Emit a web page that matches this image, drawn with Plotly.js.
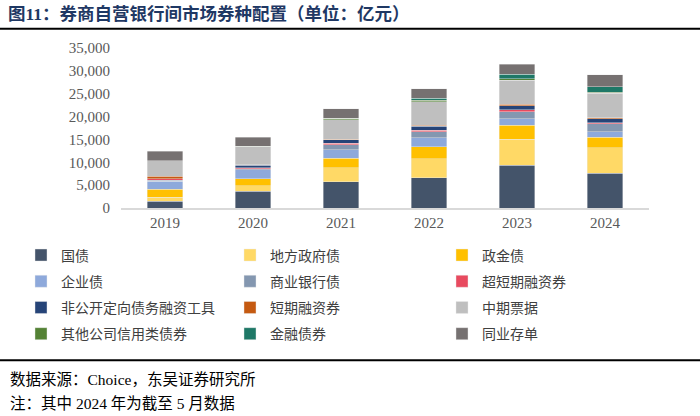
<!DOCTYPE html>
<html>
<head>
<meta charset="utf-8">
<script src="https://cdn.plot.ly/plotly-3.0.1.min.js"></script>
<style>html,body{margin:0;padding:0;background:#fff;}#chart{width:700px;height:416px;}</style>
</head>
<body>
<div id="chart"></div>
<script>
// ---- data (亿元) ----
var years = ['2019', '2020', '2021', '2022', '2023', '2024'];
var seriesNames = ['国债', '地方政府债', '政金债', '企业债', '商业银行债', '超短期融资券',
  '非公开定向债务融资工具', '短期融资券', '中期票据', '其他公司信用类债券', '金融债券', '同业存单'];
var guozhai      = [1500, 3650, 5700, 6650, 9300, 7600];
var difang       = [900, 1230, 3100, 4100, 5750, 5550];
var zhengjin     = [1650, 1520, 2030, 2600, 3000, 2300];
var qiye         = [1800, 1960, 1900, 2000, 1500, 1200];
var shangyin     = [200, 200, 1100, 1300, 1550, 1800];
var chaoduanrong = [300, 200, 360, 360, 360, 150];
var feigongkai   = [100, 600, 700, 870, 940, 900];
var duanrong     = [450, 100, 150, 250, 280, 200];
var zhongpiao    = [3450, 3950, 4300, 5100, 5250, 5350];
var qita         = [0, 150, 280, 300, 300, 300];
var jinrong      = [0, 0, 0, 500, 1000, 1150];
var tongcun      = [2050, 1960, 2100, 2030, 2170, 2680];
var yTickVals = [0, 5000, 10000, 15000, 20000, 25000, 30000, 35000];

var seriesValues = [guozhai, difang, zhengjin, qiye, shangyin, chaoduanrong,
  feigongkai, duanrong, zhongpiao, qita, jinrong, tongcun];
var colors = ['#44546A', '#FFD966', '#FFC000', '#8EA9DB', '#8497B0', '#E84A5F',
  '#264478', '#C55A11', '#BFBFBF', '#548235', '#1E7867', '#767171'];

var serif = '"Liberation Serif", "Times New Roman", "Noto Sans CJK SC", serif';
var legendNames = ['legend', 'legend2', 'legend3'];

var traces = seriesNames.map(function (name, i) {
  return {
    type: 'bar',
    name: name,
    x: years,
    y: seriesValues[i],
    marker: {color: colors[i], line: {color: 'rgba(235,235,235,0.7)', width: 0.6}},
    legend: legendNames[i % 3],
    legendgroup: 'g' + i,
    hoverinfo: 'name+y'
  };
});

// plot area: x 121..649, y 48.3..208.5
var L = 121, R = 649, T = 48.3, B = 208.5;
var W = R - L, H = B - T;
function px(x) { return (x - L) / W; }
function py(y) { return 1 - (y - T) / H; }

function legendCfg(xpix) {
  return {
    x: px(xpix), xanchor: 'left', y: py(240), yanchor: 'top',
    orientation: 'v', traceorder: 'grouped', tracegroupgap: 5,
    font: {family: serif, size: 14, color: '#404040'},
    bgcolor: 'rgba(0,0,0,0)', itemwidth: 30
  };
}

var layout = {
  width: 700, height: 416,
  margin: {l: L, r: 700 - R, t: T, b: 416 - B, pad: 0},
  paper_bgcolor: '#fff', plot_bgcolor: '#fff',
  barmode: 'stack', bargap: 0.6,
  showlegend: true,
  title: {
    text: '<b>图11：券商自营银行间市场券种配置（单位：亿元）</b>',
    xref: 'container', yref: 'container', x: 8 / 700, xanchor: 'left',
    y: 1 - 14 / 416, yanchor: 'middle',
    font: {family: serif, size: 17.5, color: '#1F3864'}
  },
  xaxis: {
    type: 'category', showline: true, linecolor: '#D9D9D9', linewidth: 1.5,
    ticks: '', showgrid: false, zeroline: false,
    tickfont: {family: serif, size: 15, color: '#595959'}
  },
  yaxis: {
    range: [0, 35000], tickvals: yTickVals, tickformat: ',d',
    showgrid: false, zeroline: false, showline: false, ticks: '',
    ticklabelstandoff: 10,
    tickfont: {family: serif, size: 15, color: '#595959'}
  },
  legend: legendCfg(21),
  legend2: legendCfg(230),
  legend3: legendCfg(442),
  shapes: [
    {type: 'line', xref: 'paper', yref: 'paper', x0: px(0), x1: px(700), y0: py(29), y1: py(29),
      line: {color: '#000', width: 2}},
    {type: 'line', xref: 'paper', yref: 'paper', x0: px(0), x1: px(700), y0: py(361), y1: py(361),
      line: {color: '#000', width: 2}}
  ],
  annotations: [
    {xref: 'paper', yref: 'paper', x: px(8), y: py(380), xanchor: 'left', yanchor: 'middle',
      showarrow: false, text: '数据来源：Choice，东吴证券研究所',
      font: {family: serif, size: 15.5, color: '#000'}},
    {xref: 'paper', yref: 'paper', x: px(8), y: py(404), xanchor: 'left', yanchor: 'middle',
      showarrow: false, text: '注：其中 2024 年为截至 5 月数据',
      font: {family: serif, size: 15.5, color: '#000'}}
  ]
};

Plotly.newPlot('chart', traces, layout, {displayModeBar: false, staticPlot: true});
</script>
</body>
</html>
